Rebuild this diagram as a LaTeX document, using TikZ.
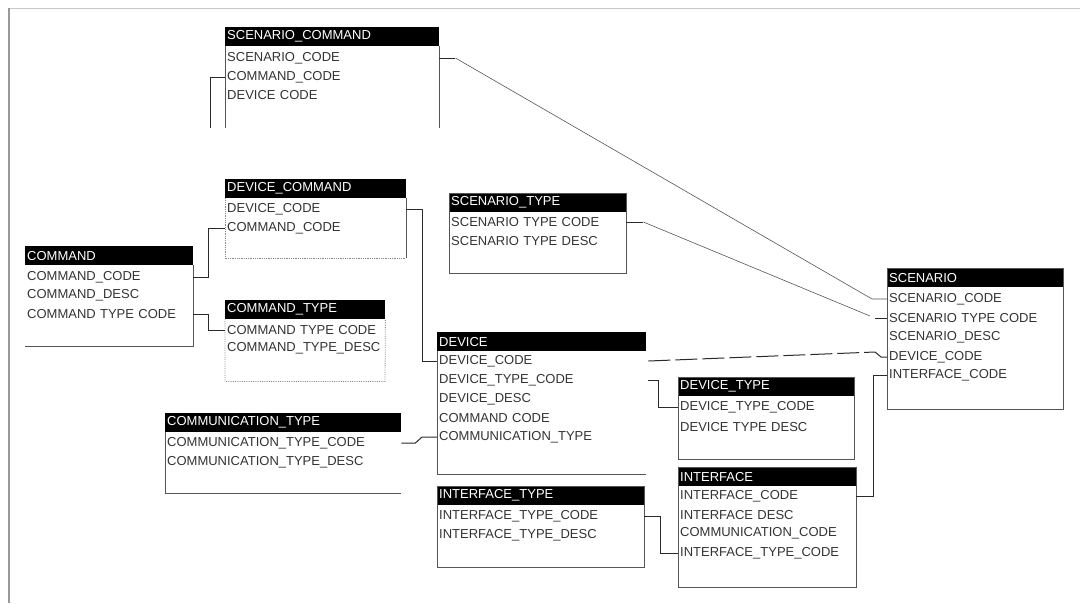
\documentclass[tikz,border=0pt]{standalone}
\usepackage{fontspec}
\setmainfont{Liberation Sans}
\definecolor{txt}{HTML}{333333}
\definecolor{edge}{HTML}{555555}
\definecolor{lnk}{HTML}{2A2A2A}
\tikzset{
  hdr/.style={fill=black, text=white, anchor=north west, inner xsep=2pt, inner ysep=0pt,
    minimum height=19pt, text width=#1, align=left},
  rowt/.style={text=txt, anchor=west, inner xsep=2pt, inner ysep=0pt,
    minimum height=17pt, text width=#1, align=left},
  boxline/.style={draw=edge, line width=1pt},
  dotline/.style={draw=edge!70, line width=0.8pt, densely dotted},
  conn/.style={draw=lnk, line width=1pt},
  thinconn/.style={draw=lnk!80, line width=0.6pt},
  dashconn/.style={draw=lnk, line width=1pt, dash pattern=on 22pt off 5pt},
}
\begin{document}
\begin{tikzpicture}[x=1pt,y=-1pt,font=\fontsize{13}{15}\selectfont]
\useasboundingbox (0,0) rectangle (1080,603);
% frame
\draw[draw=gray!45, line width=1pt] (8,8) -- (1080,8);
\draw[draw=gray!80, line width=1.2pt] (9,8) -- (9,603);

% SCENARIO_COMMAND
\node[hdr=210] (sc) at (225,27) {SCENARIO\_COMMAND};
\node[rowt=210] (sc-1) at (225,58) {SCENARIO\_CODE};
\node[rowt=210] (sc-2) at (225,77) {COMMAND\_CODE};
\node[rowt=210] (sc-3) at (225,95) {DEVICE CODE};
\draw[boxline] (sc.south west) -- ++(0,82);
\draw[boxline] (sc.south east) -- ++(0,82);

% DEVICE_COMMAND
\node[hdr=177] (dc) at (225,179) {DEVICE\_COMMAND};
\node[rowt=177] (dc-1) at (225,209) {DEVICE\_CODE};
\node[rowt=177] (dc-2) at (225,228) {COMMAND\_CODE};
\draw[boxline] (dc.south east) -- ++(0,60);
\draw[dotline] (dc.south west) -- ++(0,60) -- ++(181,0);

% COMMAND
\node[hdr=164] (cm) at (25,246) {COMMAND};
\node[rowt=164] (cm-1) at (25,277) {COMMAND\_CODE};
\node[rowt=164] (cm-2) at (25,295) {COMMAND\_DESC};
\node[rowt=164] (cm-3) at (25,314) {COMMAND TYPE CODE};
\draw[boxline] (cm.south east) -- ++(0,81) -- ++(-168,0);

% COMMAND_TYPE
\node[hdr=156] (ct) at (225,300) {COMMAND\_TYPE};
\node[rowt=156] (ct-1) at (225,330) {COMMAND TYPE CODE};
\node[rowt=156] (ct-2) at (225,348) {COMMAND\_TYPE\_DESC};
\draw[dotline] (ct.south west) -- ++(0,62) -- ++(160,0) -- (ct.south east);

% SCENARIO_TYPE
\node[hdr=173] (st) at (449,193) {SCENARIO\_TYPE};
\node[rowt=173] (st-1) at (449,222) {SCENARIO TYPE CODE};
\node[rowt=173] (st-2) at (449,241) {SCENARIO TYPE DESC};
\draw[boxline] (st.north west) rectangle ++(177,80);

% SCENARIO
\node[hdr=172] (sn) at (887,268) {SCENARIO};
\node[rowt=172] (sn-1) at (887,299) {SCENARIO\_CODE};
\node[rowt=172] (sn-2) at (887,318) {SCENARIO TYPE CODE};
\node[rowt=172] (sn-3) at (887,337) {SCENARIO\_DESC};
\node[rowt=172] (sn-4) at (887,357) {DEVICE\_CODE};
\node[rowt=172] (sn-5) at (887,375) {INTERFACE\_CODE};
\draw[boxline] (sn.north west) rectangle ++(176,141);

% DEVICE
\node[hdr=205] (dv) at (437,332) {DEVICE};
\node[rowt=205] (dv-1) at (437,361) {DEVICE\_CODE};
\node[rowt=205] (dv-2) at (437,380) {DEVICE\_TYPE\_CODE};
\node[rowt=205] (dv-3) at (437,399) {DEVICE\_DESC};
\node[rowt=205] (dv-4) at (437,418) {COMMAND CODE};
\node[rowt=205] (dv-5) at (437,437) {COMMUNICATION\_TYPE};
\draw[boxline] (dv.south west) -- ++(0,123) -- ++(209,0);

% DEVICE_TYPE
\node[hdr=172] (dt) at (678,377) {DEVICE\_TYPE};
\node[rowt=172] (dt-1) at (678,407) {DEVICE\_TYPE\_CODE};
\node[rowt=172] (dt-2) at (678,427) {DEVICE TYPE DESC};
\draw[boxline] (dt.north west) rectangle ++(176,82);

% COMMUNICATION_TYPE
\node[hdr=232] (cmt) at (165,413) {COMMUNICATION\_TYPE};
\node[rowt=232] (cmt-1) at (165,443) {COMMUNICATION\_TYPE\_CODE};
\node[rowt=232] (cmt-2) at (165,462) {COMMUNICATION\_TYPE\_DESC};
\draw[boxline] (cmt.south west) -- ++(0,61) -- ++(236,0);

% INTERFACE_TYPE
\node[hdr=203] (it) at (437,486) {INTERFACE\_TYPE};
\node[rowt=203] (it-1) at (437,516) {INTERFACE\_TYPE\_CODE};
\node[rowt=203] (it-2) at (437,535) {INTERFACE\_TYPE\_DESC};
\draw[boxline] (it.north west) rectangle ++(207,81);

% INTERFACE
\node[hdr=174] (itf) at (678,467) {INTERFACE};
\node[rowt=174] (itf-1) at (678,496) {INTERFACE\_CODE};
\node[rowt=174] (itf-2) at (678,515) {INTERFACE DESC};
\node[rowt=174] (itf-3) at (678,533) {COMMUNICATION\_CODE};
\node[rowt=174] (itf-4) at (678,553) {INTERFACE\_TYPE\_CODE};
\draw[boxline] (itf.north west) rectangle ++(178,120);

% connectors
\coordinate (scfree) at (210,128);
\draw[conn] (sc-2.west) -- (sc-2.west -| scfree) -- (scfree);
\draw[conn] (sc-1.east) -- ++(16,0);
\draw[thinconn] ([xshift=16pt]sc-1.east) -- ([xshift=-15pt]sn-1.west) -- (sn-1.west);
\draw[conn] (st-1.east) -- ++(17,0);
\draw[thinconn] ([xshift=17pt]st-1.east) -- ([xshift=-17pt,yshift=2pt]sn-2.west);
\draw[conn] ([xshift=-12pt]sn-2.west) -- (sn-2.west);
\draw[conn] (dc-1.east) -- ++(16,0) |- (dv-1.west);
\draw[conn] (cm-1.east) -- ++(15,0) |- (dc-2.west);
\draw[conn] (cm-3.east) -- ++(15,0) |- (ct-1.west);
\draw[dashconn] ([xshift=2pt]dv-1.east) -- ([xshift=-12pt,yshift=5pt]sn-4.west);
\draw[conn] ([xshift=-12pt,yshift=5pt]sn-4.west) -- ([xshift=-6pt]sn-4.west) -- (sn-4.west);
\draw[conn] ([xshift=2pt]dv-2.east) -- ++(10,0) |- (dt-1.west);
\draw[conn] (cmt-1.east) -- ++(14,0) -- ([xshift=-15pt]dv-5.west) -- (dv-5.west);
\draw[conn] (it-1.east) -- ++(16,0) |- (itf-4.west);
\draw[conn] (sn-5.west) -- ++(-14,0) |- (itf-1.east);
\end{tikzpicture}
\end{document}
